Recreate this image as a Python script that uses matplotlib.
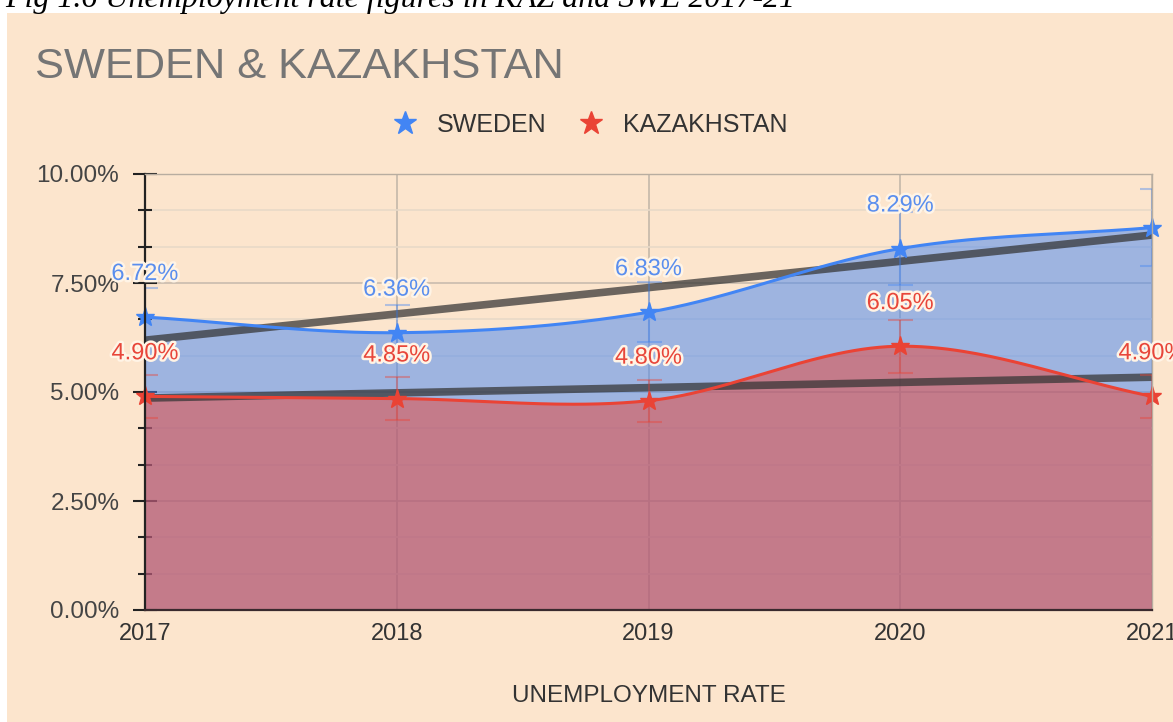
import numpy as np
import matplotlib
matplotlib.use("Agg")
import matplotlib.pyplot as plt
from matplotlib.patches import Rectangle
from matplotlib.ticker import MultipleLocator, FuncFormatter
from matplotlib.lines import Line2D
import matplotlib.patheffects as pe

years = [2017, 2018, 2019, 2020, 2021]
sweden = [6.72, 6.36, 6.83, 8.29, 8.77]
kazakhstan = [4.90, 4.85, 4.80, 6.05, 4.90]
sweden_labels = ["6.72%", "6.36%", "6.83%", "8.29%", None]
kaz_labels = ["4.90%", "4.85%", "4.80%", "6.05%", "4.90%"]
err_pct = 10.0
title = "SWEDEN & KAZAKHSTAN"
caption = "Fig 1.6 Unemployment rate figures in KAZ and SWE 2017-21"
xlabel = "UNEMPLOYMENT RATE"

BLUE = "#4285f4"
RED = "#ea4335"
PEACH = "#fce5cd"

plt.rcParams['font.family'] = ['Liberation Sans', 'DejaVu Sans']

W, H = 1173, 722
fig = plt.figure(figsize=(W / 100, H / 100), dpi=100)
fig.patch.set_facecolor("white")
fig.patches.append(Rectangle((7 / W, 0), 1, 1 - 13 / H, transform=fig.transFigure,
                             facecolor=PEACH, edgecolor="none", zorder=-10))

fig.text(5 / W, 1 - 7 / H, caption, family="Liberation Serif", style="italic",
         fontsize=23, color="black", va="baseline", ha="left")
fig.text(35 / W, 1 - 67 / H, title, fontsize=31.2, color="#757575", va="center", ha="left")

ax = fig.add_axes([145 / W, 1 - 610 / H, (1152 - 145) / W, (610 - 174) / H])
ax.set_facecolor("none")


def smooth(xs, ys, n=60):
    xs = np.asarray(xs, float)
    ys = np.asarray(ys, float)
    m = np.zeros_like(ys)
    m[1:-1] = (ys[2:] - ys[:-2]) / (xs[2:] - xs[:-2])
    m[0] = (ys[1] - ys[0]) / (xs[1] - xs[0])
    m[-1] = (ys[-1] - ys[-2]) / (xs[-1] - xs[-2])
    ox, oy = [], []
    for i in range(len(xs) - 1):
        h = xs[i + 1] - xs[i]
        t = np.linspace(0, 1, n, endpoint=(i == len(xs) - 2))
        h00 = 2 * t**3 - 3 * t**2 + 1
        h10 = t**3 - 2 * t**2 + t
        h01 = -2 * t**3 + 3 * t**2
        h11 = t**3 - t**2
        ox.append(xs[i] + t * h)
        oy.append(h00 * ys[i] + h10 * h * m[i] + h01 * ys[i + 1] + h11 * h * m[i + 1])
    return np.concatenate(ox), np.concatenate(oy)


sx, sy = smooth(years, sweden)
kx, ky = smooth(years, kazakhstan)

ax.fill_between(sx, 0, sy, color=BLUE, alpha=0.5, lw=0, zorder=2)
ax.fill_between(kx, 0, ky, color=RED, alpha=0.5, lw=0, zorder=2)

# trendlines
for vals in (sweden, kazakhstan):
    c = np.polyfit(years, vals, 1)
    ax.plot(years, np.polyval(c, years), color="#333333", alpha=0.72, lw=5.5,
            solid_capstyle="butt", zorder=3)

# error bars
for vals, col in ((sweden, BLUE), (kazakhstan, RED)):
    err = [v * err_pct / 100 for v in vals]
    ax.errorbar(years, vals, yerr=err, fmt="none", ecolor=col, alpha=0.4,
                elinewidth=1.5, capsize=9, capthick=1.5, zorder=4)

ax.plot(sx, sy, color=BLUE, lw=2.2, zorder=5)
ax.plot(kx, ky, color=RED, lw=2.2, zorder=5)
ax.plot(years, sweden, ls="none", marker="*", ms=14, color=BLUE, zorder=6, clip_on=False)
ax.plot(years, kazakhstan, ls="none", marker="*", ms=14, color=RED, zorder=6, clip_on=False)

halo = [pe.withStroke(linewidth=3.5, foreground="#fff4e6")]
for x, v, lab in zip(years, sweden, sweden_labels):
    if lab:
        ax.annotate(lab, (x, v), xytext=(0, 31), textcoords="offset points",
                    ha="center", va="center", fontsize=17, color="#5a8eee",
                    path_effects=halo, zorder=8, annotation_clip=False)
for x, v, lab in zip(years, kazakhstan, kaz_labels):
    if lab:
        ax.annotate(lab, (x, v), xytext=(0, 31), textcoords="offset points",
                    ha="center", va="center", fontsize=17, color="#e8463a",
                    path_effects=halo, zorder=8, annotation_clip=False)

ax.set_xlim(2017, 2021)
ax.set_ylim(0, 10)
ax.set_xticks(years)
ax.set_xticklabels([str(y) for y in years])
ax.yaxis.set_major_locator(MultipleLocator(2.5))
ax.yaxis.set_minor_locator(MultipleLocator(2.5 / 3))
ax.yaxis.set_major_formatter(FuncFormatter(lambda v, p: f"{v:.2f}%"))

ax.grid(True, which="major", axis="y", color="#c9bcae", lw=1.2, zorder=0)
ax.grid(True, which="minor", axis="y", color="#e8d9c8", lw=1.2, zorder=0)
ax.grid(True, which="major", axis="x", color="#c4b8aa", lw=1.2, zorder=0)
ax.set_axisbelow(True)

ax.tick_params(axis="y", which="major", direction="inout", length=17, width=1.5,
               color="#222222", labelsize=17.5, labelcolor="#444444", pad=10)
ax.tick_params(axis="y", which="minor", direction="inout", length=10, width=1.5,
               color="#222222")
ax.tick_params(axis="x", which="major", length=0, labelsize=17, labelcolor="#333333", pad=9)

for s in ("top", "right"):
    ax.spines[s].set_color("#b8ada0")
    ax.spines[s].set_linewidth(1.0)
ax.spines["left"].set_color("#222222")
ax.spines["left"].set_linewidth(1.6)
ax.spines["bottom"].set_color("#3a2a2e")
ax.spines["bottom"].set_linewidth(1.6)
for s in ax.spines.values():
    s.set_zorder(7)

ax.set_xlabel(xlabel, fontsize=17.5, color="#333333", labelpad=29)

handles = [Line2D([], [], ls="none", marker="*", ms=17, color=BLUE, label="SWEDEN"),
           Line2D([], [], ls="none", marker="*", ms=17, color=RED, label="KAZAKHSTAN")]
fig.legend(handles=handles, loc="center", bbox_to_anchor=(590 / W, 1 - 125 / H), ncol=2,
           frameon=False, fontsize=18, handletextpad=0.8, columnspacing=1.25,
           labelcolor="#333333", handlelength=1.0)

fig.savefig("out.png", dpi=100, facecolor=fig.get_facecolor())
